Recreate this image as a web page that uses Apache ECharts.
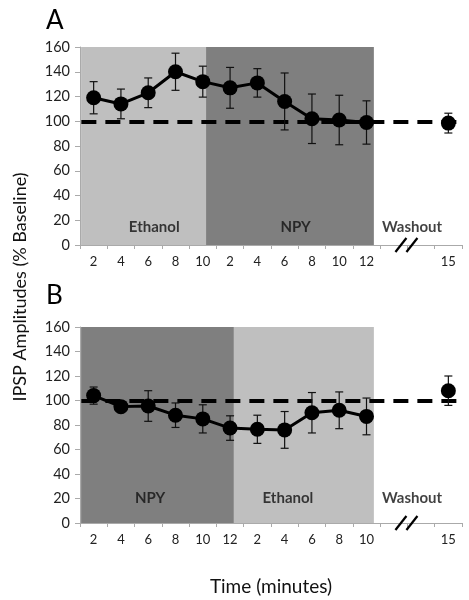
<!DOCTYPE html>
<html>
<head>
<meta charset="utf-8">
<script src="https://cdn.jsdelivr.net/npm/echarts@6/dist/echarts.min.js"></script>
<style>
html,body{margin:0;padding:0;background:#fff;}
#c{width:469px;height:600px;}
</style>
</head>
<body>
<div id="c"></div>
<script>
// ---- data ----
var catsA = ['2','4','6','8','10','2','4','6','8','10','12','','','15'];
var catsB = ['2','4','6','8','10','12','2','4','6','8','10','','','15'];
var valuesA = [119, 114, 123, 140, 132, 127, 131, 116, 102, 101, 99];
var errA    = [13, 12, 12, 15, 12.5, 16.5, 11.5, 23, 20, 20, 17.5];
var washA = 98.5, washErrA = 8;
var valuesB = [104, 95, 95.5, 88, 85, 77.5, 76.5, 76, 90, 92, 87];
var errB    = [7, 3, 12.5, 10, 11.5, 10, 11.5, 15, 16.5, 15, 15];
var washB = 108, washErrB = 12;
var washIndex = 13;
var breakIndex = 12;
var baseline = 100;
var yTicks = [0, 20, 40, 60, 80, 100, 120, 140, 160];
// shaded periods (in category-slot units)
var periodsA = [{name:'Ethanol', from:0.04, to:4.62, color:'#bfbfbf'}, {name:'NPY', from:4.62, to:10.77, color:'#7f7f7f'}];
var periodsB = [{name:'NPY', from:0.04, to:5.64, color:'#7f7f7f'}, {name:'Ethanol', from:5.64, to:10.77, color:'#bfbfbf'}];
var periodLabelsA = [{t:'Ethanol', x:2.72, y:14.5}, {t:'NPY', x:7.9, y:14.5}, {t:'Washout', x:12.17, y:14.5}];
var periodLabelsB = [{t:'NPY', x:2.57, y:20}, {t:'Ethanol', x:7.62, y:20}, {t:'Washout', x:12.17, y:20}];

var FONT = 'Lato';
var chart = echarts.init(document.getElementById('c'), null, {renderer:'canvas'});

function pts(vals){ return vals.map(function(v,i){ return [i+0.5, v]; }); }
function errs(vals, e){ return vals.map(function(v,i){ return [i+0.5, v-e[i], v+e[i]]; }); }

function errRender(params, api){
  var x = api.value(0);
  var lo = api.coord([x, api.value(1)]);
  var hi = api.coord([x, api.value(2)]);
  var cap = 4;
  var st = {stroke:'#111', lineWidth:1.2};
  return {type:'group', children:[
    {type:'line', shape:{x1:lo[0], y1:lo[1], x2:hi[0], y2:hi[1]}, style:st},
    {type:'line', shape:{x1:hi[0]-cap, y1:hi[1], x2:hi[0]+cap, y2:hi[1]}, style:st},
    {type:'line', shape:{x1:lo[0]-cap, y1:lo[1], x2:lo[0]+cap, y2:lo[1]}, style:st}
  ]};
}
function breakRender(params, api){
  var c = api.coord([api.value(0), api.value(1)]);
  var st = {stroke:'#000', lineWidth:2.2};
  return {type:'group', children:[
    {type:'line', shape:{x1:c[0]-12, y1:c[1]+7, x2:c[0]-1, y2:c[1]-7}, style:st},
    {type:'line', shape:{x1:c[0]-1, y1:c[1]+7, x2:c[0]+10, y2:c[1]-7}, style:st}
  ]};
}

function catAxis(cats, gi, withName){
  var a = {
    type:'category', gridIndex:gi, data:cats, boundaryGap:true,
    axisLine:{show:true, lineStyle:{color:'#aaaaaa', width:1}},
    axisTick:{show:true, interval:0, length:4, lineStyle:{color:'#aaaaaa'}},
    axisLabel:{interval:0, fontFamily:FONT, fontSize:13, color:'#222', margin:10},
    splitLine:{show:false}, z:5
  };
  if (withName){
    a.name = 'Time (minutes)'; a.nameLocation = 'middle'; a.nameGap = 54;
    a.nameTextStyle = {fontFamily:FONT, fontSize:19, color:'#111'};
  }
  return a;
}
function valXAxis(gi){
  return {type:'value', gridIndex:gi, min:0, max:catsA.length, show:false};
}
function yAx(gi){
  return {type:'value', gridIndex:gi, min:yTicks[0], max:yTicks[yTicks.length-1], interval:yTicks[1]-yTicks[0],
    axisLine:{show:true, lineStyle:{color:'#aaaaaa'}},
    axisTick:{show:true, length:5, lineStyle:{color:'#aaaaaa'}},
    axisLabel:{fontFamily:FONT, fontSize:14.5, color:'#222', margin:10},
    splitLine:{show:false}, z:5};
}

function panelSeries(xv, yi, vals, e, wash, washErr, periods, labels){
  var out = [];
  out.push({
    type:'line', xAxisIndex:xv, yAxisIndex:yi, data:[], silent:true, z:1,
    markArea:{silent:true, data: periods.map(function(p){
      return [{xAxis:p.from, yAxis:yTicks[yTicks.length-1], itemStyle:{color:p.color}}, {xAxis:p.to, yAxis:yTicks[0]}];
    })},
    markLine:{silent:true, symbol:'none', z:2, label:{show:false},
      lineStyle:{color:'#000', width:4, type:[15,9]},
      data:[[{coord:[0.05, baseline]}, {coord:[13.85, baseline]}]]}
  });
  out.push({
    type:'scatter', xAxisIndex:xv, yAxisIndex:yi, symbolSize:0, silent:true, z:3,
    data: labels.map(function(l){ return {value:[l.x, l.y], name:l.t}; }),
    label:{show:true, position:'inside', formatter:'{b}', fontFamily:FONT, fontWeight:'bold', fontSize:15, color:'#111'}
  });
  out.push({type:'custom', xAxisIndex:xv, yAxisIndex:yi, renderItem:errRender, data:errs(vals,e).concat([[washIndex+0.5, wash-washErr, wash+washErr]]), z:6, silent:true});
  out.push({type:'line', xAxisIndex:xv, yAxisIndex:yi, data:pts(vals), symbol:'circle', symbolSize:15,
    lineStyle:{color:'#000', width:3}, itemStyle:{color:'#000', opacity:1}, z:7, silent:true});
  out.push({type:'scatter', xAxisIndex:xv, yAxisIndex:yi, data:[[washIndex+0.5, wash]], symbol:'circle', symbolSize:15,
    itemStyle:{color:'#000', opacity:1}, z:7, silent:true});
  out.push({type:'custom', xAxisIndex:xv, yAxisIndex:yi, renderItem:breakRender, data:[[breakIndex, yTicks[0]]], z:10, silent:true, clip:false});
  return out;
}

var option = {
  animation:false,
  backgroundColor:'#fff',
  textStyle:{fontFamily:FONT},
  title:[
    {text:'A', left:41, top:3, textStyle:{fontFamily:FONT, fontSize:26, fontWeight:'normal', color:'#000'}},
    {text:'B', left:41, top:278, textStyle:{fontFamily:FONT, fontSize:26, fontWeight:'normal', color:'#000'}}
  ],
  graphic:[{type:'text', x:20, y:287, rotation:Math.PI/2,
    style:{text:'IPSP Amplitudes (% Baseline)', fontFamily:FONT, fontSize:18, fill:'#111', align:'center', verticalAlign:'middle'}}],
  grid:[
    {left:80, right:7, top:47, height:198},
    {left:80, right:7, top:327, height:196}
  ],
  xAxis:[catAxis(catsA,0,false), valXAxis(0), catAxis(catsB,1,true), valXAxis(1)],
  yAxis:[yAx(0), yAx(1)],
  series: panelSeries(1, 0, valuesA, errA, washA, washErrA, periodsA, periodLabelsA)
    .concat(panelSeries(3, 1, valuesB, errB, washB, washErrB, periodsB, periodLabelsB))
};
chart.setOption(option);
</script>
</body>
</html>
